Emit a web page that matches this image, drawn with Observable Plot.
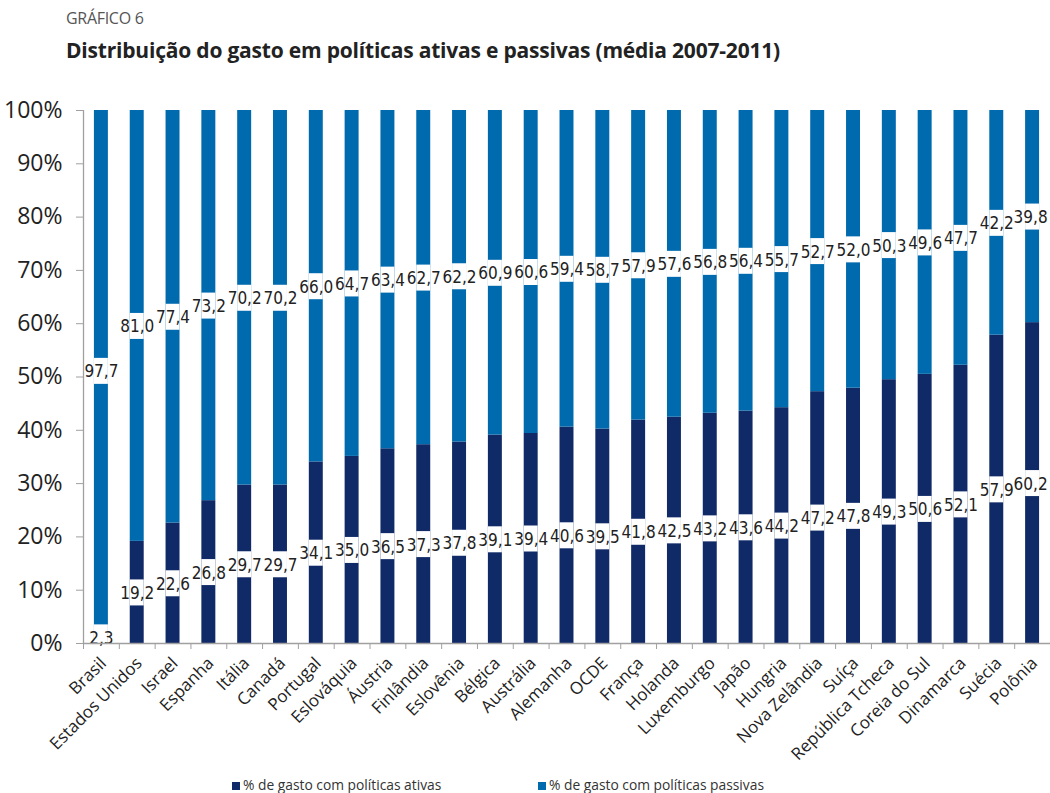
<!DOCTYPE html>
<html>
<head>
<meta charset="utf-8">
<script src="https://cdn.jsdelivr.net/npm/d3@7"></script>
<script src="https://cdn.jsdelivr.net/npm/@observablehq/plot@0.6"></script>
<style>
  body { margin: 0; background: #fff; font-family: "Open Sans", "Noto Sans", sans-serif; }
  #wrap { width: 1050px; height: 793px; overflow: hidden; position: relative; }
  #header { height: 70px; position: relative; }
  #kicker { position: absolute; left: 66px; top: 7px; font-size: 16px; color: #555; letter-spacing: -0.3px; }
  #title { position: absolute; left: 66px; top: 36px; font-size: 21px; font-weight: bold; color: #222; letter-spacing: -0.2px; }
  #legend { position: relative; height: 23px; font-size: 13.8px; color: #333; }
  .lg { position: absolute; top: 5px; white-space: nowrap; }
  .sw { display: inline-block; width: 8px; height: 8px; margin-right: 3px; vertical-align: 0px; }
</style>
</head>
<body>
<div id="wrap">
  <div id="header">
    <div id="kicker">GRÁFICO 6</div>
    <div id="title">Distribuição do gasto em políticas ativas e passivas (média 2007-2011)</div>
  </div>
  <div id="chart"></div>
  <div id="legend"></div>
</div>
<script>
const countries = ["Brasil","Estados Unidos","Israel","Espanha","Itália","Canadá","Portugal","Eslováquia","Áustria","Finlândia","Eslovênia","Bélgica","Austrália","Alemanha","OCDE","França","Holanda","Luxemburgo","Japão","Hungria","Nova Zelândia","Suíça","República Tcheca","Coreia do Sul","Dinamarca","Suécia","Polônia"];
const ativas   = [2.3,19.2,22.6,26.8,29.7,29.7,34.1,35.0,36.5,37.3,37.8,39.1,39.4,40.6,39.5,41.8,42.5,43.2,43.6,44.2,47.2,47.8,49.3,50.6,52.1,57.9,60.2];
const passivas = [97.7,81.0,77.4,73.2,70.2,70.2,66.0,64.7,63.4,62.7,62.2,60.9,60.6,59.4,58.7,57.9,57.6,56.8,56.4,55.7,52.7,52.0,50.3,49.6,47.7,42.2,39.8];
const seriesNames = ["% de gasto com políticas ativas", "% de gasto com políticas passivas"];
const seriesColors = ["#102a68", "#006aae"];
const yTicks = [0,0.1,0.2,0.3,0.4,0.5,0.6,0.7,0.8,0.9,1];

const rows = [];
countries.forEach((c, i) => {
  rows.push({country: c, serie: seriesNames[0], value: ativas[i]});
  rows.push({country: c, serie: seriesNames[1], value: passivas[i]});
});

const W = 1050, H = 700, mL = 83, mR = 0, mT = 40, mB = H - 40 - 533;
const step = (W - mL - mR) / countries.length;
const fmt = v => v.toFixed(1).replace(".", ",");
const font = "Open Sans, Noto Sans, sans-serif";
const narrow = "Liberation Sans Narrow, DejaVu Sans Condensed, Lato, sans-serif";
const last = countries[countries.length - 1];

const stackOpts = {x: "country", y: "value", z: "serie", order: null, offset: "normalize"};

const plot = Plot.plot({
  width: W, height: H,
  marginLeft: mL, marginRight: mR, marginTop: mT, marginBottom: mB,
  style: {fontFamily: font, background: "white"},
  x: {domain: countries, paddingInner: 0.61, paddingOuter: 0.305, round: false, label: null},
  y: {domain: [0, 1], label: null},
  color: {domain: seriesNames, range: seriesColors},
  marks: [
    Plot.barY(rows, Plot.stackY({...stackOpts, fill: "serie"})),
    Plot.tickY(rows, Plot.stackY({...stackOpts, stroke: "white", strokeWidth: 26})),
    Plot.text(rows, Plot.stackY({...stackOpts, filter: d => d.country !== last, text: d => fmt(d.value), fill: "#222", fontSize: 17, fontFamily: narrow, dy: 1})),
    Plot.text(rows, Plot.stackY({...stackOpts, filter: d => d.country === last, text: d => fmt(d.value), fill: "#222", fontSize: 17, fontFamily: narrow, dy: 1, dx: -2})),
    Plot.ruleY([0], {stroke: "#a0a0a0", strokeWidth: 1.3}),
    Plot.ruleX([countries[0]], {y1: 0, y2: 1, dx: -step / 2, stroke: "#a0a0a0", strokeWidth: 1.3}),
    Plot.axisY({ticks: yTicks, tickFormat: d3.format(".0%"), tickSize: 7, tickPadding: 14, fontSize: 23, stroke: "#a0a0a0", fill: "#222", label: null}),
    Plot.axisX({tickSize: 6, tickFormat: () => "", dx: -step / 2, stroke: "#a0a0a0", label: null}),
    Plot.axisX({tickSize: 0, tickPadding: 17, tickRotate: -45, fontSize: 17, fill: "#222", dx: 2, label: null})
  ]
});
document.getElementById("chart").appendChild(plot);

const lg = document.getElementById("legend");
const lx = [232, 538];
seriesNames.forEach((s, i) => {
  const el = document.createElement("div");
  el.className = "lg";
  el.style.left = lx[i] + "px";
  el.innerHTML = `<span class="sw" style="background:${seriesColors[i]}"></span>${s}`;
  lg.appendChild(el);
});
</script>
</body>
</html>
